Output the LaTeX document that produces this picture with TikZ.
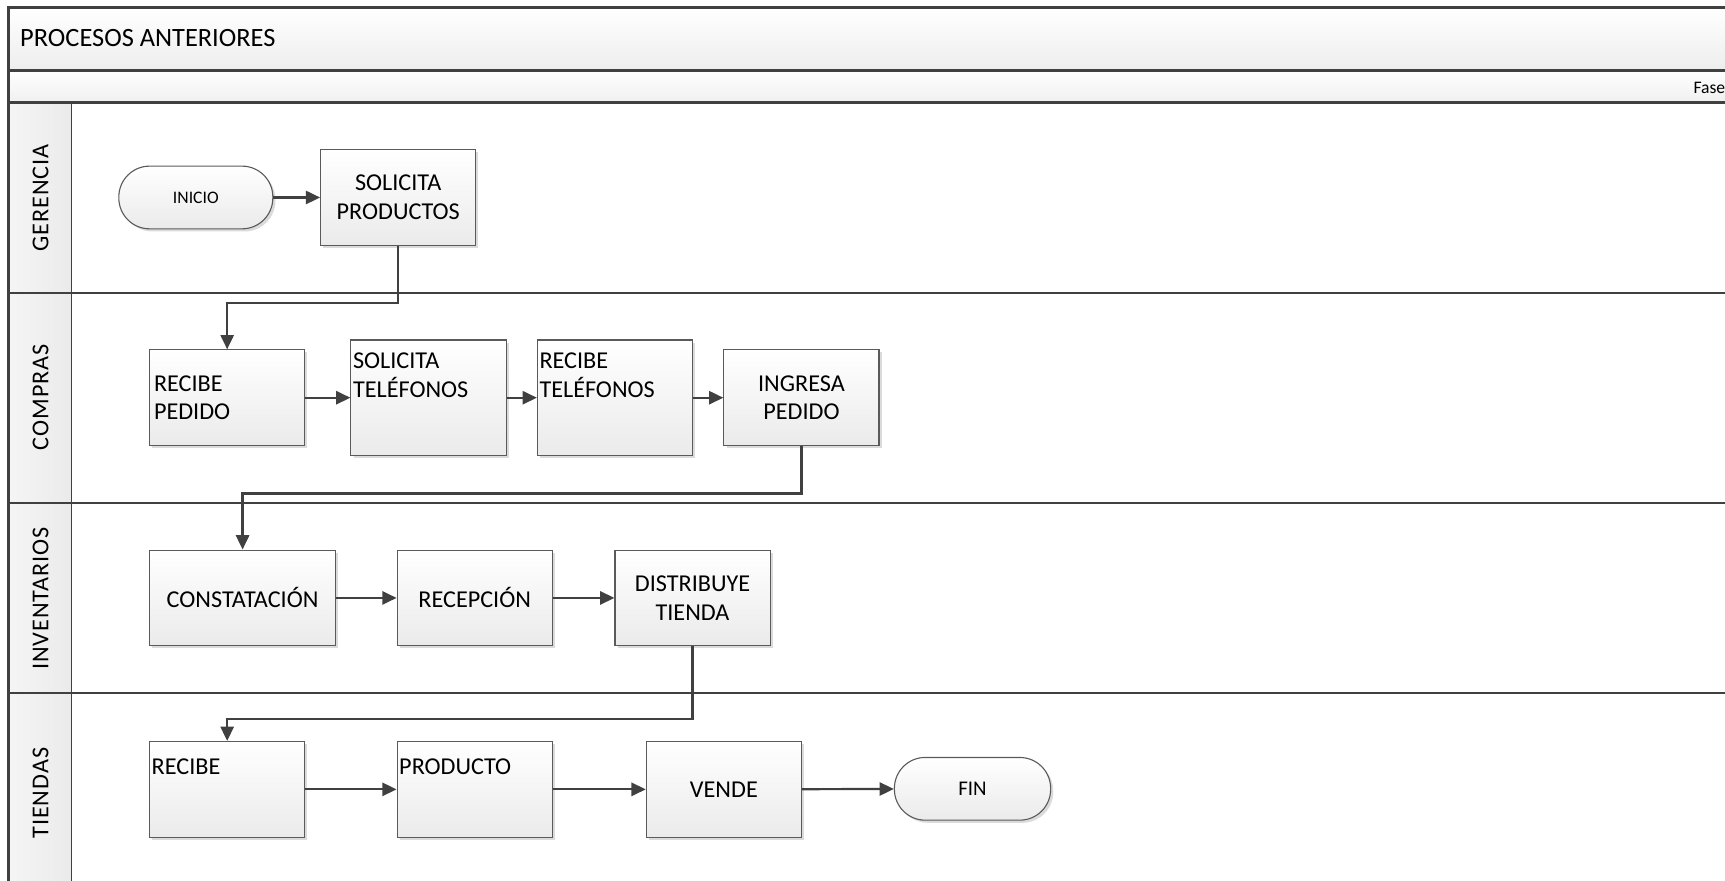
\documentclass[tikz,border=0pt]{standalone}
\usepackage{fontspec}
\setmainfont{Carlito}
\usetikzlibrary{arrows.meta,shadows}
\definecolor{linec}{HTML}{404040}
\definecolor{boxline}{HTML}{5A5A5A}
\begin{document}
\begin{tikzpicture}[x=0.5pt,y=-0.5pt,
  frameline/.style={draw=linec,line width=1.2pt},
  laneline/.style={draw=linec,line width=0.9pt},
  proc/.style={draw=boxline,line width=0.5pt,top color=white,bottom color=black!8,
    minimum width=70.5pt,minimum height=43.5pt,inner sep=2pt,
    font=\fontsize{11}{13}\selectfont,align=center,
    drop shadow={shadow xshift=1.2pt,shadow yshift=-1.2pt,fill=black!14,opacity=1}},
  tallproc/.style={proc,minimum height=52.5pt},
  term/.style={proc,rounded corners=14pt,minimum width=70pt,minimum height=28.5pt},
  tl/.style={anchor=north west,inner sep=1pt,align=left,font=\fontsize{11}{13}\selectfont},
  arr/.style={draw=linec,line width=1pt,-{Triangle[length=6.5pt,width=6pt]}},
  lanelabel/.style={rotate=90,inner sep=0pt,font=\fontsize{11}{13}\selectfont\addfontfeature{LetterSpace=4}}
]
\useasboundingbox (0,0) rectangle (1568,800);
% bands
\fill[top color=white,bottom color=black!7] (8,7) rectangle (1572,64);
\fill[top color=white,bottom color=black!6] (8,64) rectangle (1572,93);
\fill[left color=black!4,right color=black!8] (8,93) rectangle (65,820);
% frame lines
\draw[frameline] (8,820) -- (8,7) -- (1572,7);
\draw[frameline] (8,64) -- (1572,64);
\draw[frameline] (8,93) -- (1572,93);
\draw[laneline] (65,93) -- (65,820);
\draw[laneline] (8,266) -- (1572,266);
\draw[laneline] (8,457) -- (1572,457);
\draw[laneline] (8,630) -- (1572,630);
% header texts
\node[anchor=west,inner sep=0pt,font=\fontsize{12}{14}\selectfont] (title) at (18,35) {PROCESOS ANTERIORES};
\node[anchor=west,inner sep=0pt,font=\fontsize{8}{10}\selectfont] (fase) at (1539,80) {Fase};
% lane labels
\node[lanelabel] (lg) at (37,180) {GERENCIA};
\node[lanelabel] (lc) at (37,361) {COMPRAS};
\node[lanelabel] (li) at (37,544) {INVENTARIOS};
\node[lanelabel] (lt) at (37,721) {TIENDAS};
% GERENCIA
\node[term,font=\fontsize{8}{10}\selectfont] (ini) at (178,179.5) {INICIO};
\node[proc] (sp) at (362,179.5) {SOLICITA\\PRODUCTOS};
% COMPRAS
\node[proc,align=left,text width=66.5pt] (rp) at (206.5,361.5) {RECIBE\\PEDIDO};
\node[tallproc,label={[tl,yshift=-5pt]north west:SOLICITA\\TELÉFONOS}] (st) at (389.5,361.5) {};
\node[tallproc,label={[tl,yshift=-5pt]north west:RECIBE\\TELÉFONOS}] (rt) at (559,361.5) {};
\node[proc] (ip) at (728.5,361.5) {INGRESA\\PEDIDO};
% INVENTARIOS
\node[proc,minimum width=84.5pt] (con) at (220.5,543.5) {CONSTATACIÓN};
\node[proc] (rec) at (431.5,543.5) {RECEPCIÓN};
\node[proc] (dt) at (629.5,543.5) {DISTRIBUYE\\TIENDA};
% TIENDAS
\node[proc,label={[tl,yshift=-7pt]north west:RECIBE}] (rb) at (206.5,717.5) {};
\node[proc,label={[tl,yshift=-7pt]north west:PRODUCTO}] (pr) at (431.5,717.5) {};
\node[proc] (ve) at (658,717.5) {VENDE};
\node[term,minimum width=71pt,font=\fontsize{9.5}{11}\selectfont] (fin) at (884,717) {FIN};
% connectors
\draw[arr] (ini) -- (sp);
\draw[arr] (sp.south) -- ++(0,52) -| (rp.north);
\draw[arr] (rp) -- (st);
\draw[arr] (st) -- (rt);
\draw[arr] (rt) -- (ip);
\draw[arr] (ip.south) -- ++(0,43) -| (con.north);
\draw[arr] (con) -- (rec);
\draw[arr] (rec) -- (dt);
\draw[arr] (dt.south) -- ++(0,66) -| (rb.north);
\draw[arr] (rb) -- (pr);
\draw[arr] (pr) -- (ve);
\draw[arr] (ve) -- (fin);
\end{tikzpicture}
\end{document}
